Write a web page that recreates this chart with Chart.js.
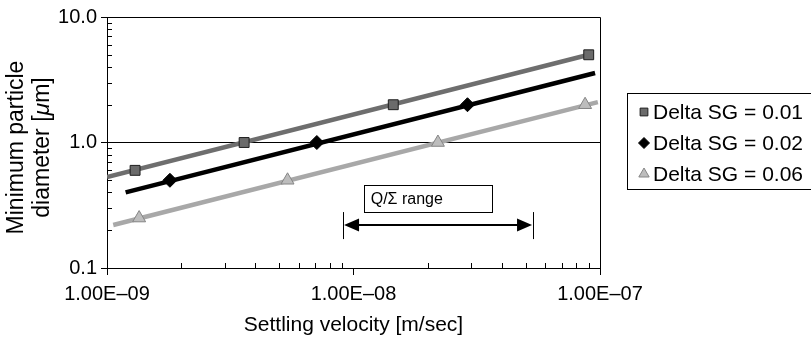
<!DOCTYPE html>
<html>
<head>
<meta charset="utf-8">
<script src="https://cdn.jsdelivr.net/npm/chart.js@4.4.1/dist/chart.umd.min.js"></script>
<style>
  html, body { margin: 0; padding: 0; background: #fff; }
  #wrap { position: relative; width: 811px; height: 341px; }
</style>
</head>
<body>
<div id="wrap"><canvas id="chart"></canvas></div>
<script>
// measured points, settling velocity [m/sec] vs minimum particle diameter [um]
const seriesLabels = ['Delta SG = 0.01', 'Delta SG = 0.02', 'Delta SG = 0.06'];

const velocity01 = [1.3e-9, 3.6e-9, 1.45e-8, 9.0e-8];
const diameter01 = [0.6, 1.0, 2.0, 5.0];
const velocity02 = [1.8e-9, 7.1e-9, 2.9e-8];
const diameter02 = [0.5, 1.0, 2.0];
const velocity06 = [1.35e-9, 5.4e-9, 2.2e-8, 8.7e-8];
const diameter06 = [0.25, 0.5, 1.0, 2.0];

// trend line end points
const trendVel01 = [1.0e-9, 9.0e-8];
const trendDia01 = [0.53, 5.0];
const trendVel02 = [1.19e-9, 9.55e-8];
const trendDia02 = [0.40, 3.58];
const trendVel06 = [1.06e-9, 9.8e-8];
const trendDia06 = [0.22, 2.1];

// axis ticks
const xTicks = [1e-9, 1e-8, 1e-7];
const yTicks = [0.1, 1, 10];

// Q/Sigma range annotation
const rangeLabel = 'Q/\u03a3 range';
const rangeVel = [9.07e-9, 5.35e-8];
const rangeDia = 0.22;
const rangeBarDia = [0.17, 0.279];
const rangeBoxVel = [1.10e-8, 3.65e-8];
const rangeBoxDia = [0.279, 0.458];

const FONT = "'Liberation Sans', Arial, sans-serif";

function pts(xs, ys) {
  return xs.map((x, i) => ({ x: x, y: ys[i] }));
}

function sciLabel(v) {
  const e = Math.round(Math.log10(v));
  const m = v / Math.pow(10, e);
  const sign = e < 0 ? '\u2013' : '+';
  return m.toFixed(2) + 'E' + sign + String(Math.abs(e)).padStart(2, '0');
}

const styles = [
  { line: '#6e6e6e', fill: '#6b6b6b', edge: '#1e1e1e', shape: 'rect', r: 7, lr: 5.5 },
  { line: '#000000', fill: '#000000', edge: '#000000', shape: 'rectRot', r: 7, lr: 5.5 },
  { line: '#a8a8a8', fill: '#bdbdbd', edge: '#858585', shape: 'triangle', r: 7.5, lr: 6 }
];

const markerSets = [
  pts(velocity01, diameter01),
  pts(velocity02, diameter02),
  pts(velocity06, diameter06)
];
const trendSets = [
  pts(trendVel01, trendDia01),
  pts(trendVel02, trendDia02),
  pts(trendVel06, trendDia06)
];

const datasets = [];
for (let i = 0; i < 3; i++) {
  datasets.push({
    label: seriesLabels[i],
    data: markerSets[i],
    showLine: false,
    pointStyle: styles[i].shape,
    pointRadius: styles[i].r,
    pointHoverRadius: styles[i].r,
    pointBackgroundColor: styles[i].fill,
    pointBorderColor: styles[i].edge,
    pointBorderWidth: 1,
    order: 0
  });
}
for (let i = 0; i < 3; i++) {
  datasets.push({
    label: seriesLabels[i] + ' trend',
    data: trendSets[i],
    showLine: true,
    borderColor: styles[i].line,
    borderWidth: 4.5,
    pointRadius: 0,
    fill: false,
    order: 1
  });
}

const extras = {
  id: 'extras',
  afterDraw(chart) {
    const ctx = chart.ctx;
    const xs = chart.scales.x, ys = chart.scales.y;
    const a = chart.chartArea;
    ctx.save();

    // plot frame top and right
    ctx.strokeStyle = '#000';
    ctx.lineWidth = 1;
    ctx.beginPath();
    ctx.moveTo(a.left, a.top + 0.5);
    ctx.lineTo(a.right + 0.5, a.top + 0.5);
    ctx.lineTo(a.right + 0.5, a.bottom);
    ctx.stroke();

    // minor ticks, pointing inwards
    ctx.beginPath();
    for (let d = 0; d < xTicks.length - 1; d++) {
      for (let k = 2; k <= 9; k++) {
        const px = Math.round(xs.getPixelForValue(xTicks[d] * k)) + 0.5;
        ctx.moveTo(px, a.bottom);
        ctx.lineTo(px, a.bottom - 5);
      }
    }
    for (let d = 0; d < yTicks.length - 1; d++) {
      for (let k = 2; k <= 9; k++) {
        const py = Math.round(ys.getPixelForValue(yTicks[d] * k)) + 0.5;
        ctx.moveTo(a.left, py);
        ctx.lineTo(a.left + 5, py);
      }
    }
    ctx.stroke();

    // Q/Sigma range box and arrow
    const bx0 = xs.getPixelForValue(rangeBoxVel[0]);
    const bx1 = xs.getPixelForValue(rangeBoxVel[1]);
    const by0 = ys.getPixelForValue(rangeBoxDia[1]);
    const by1 = ys.getPixelForValue(rangeBoxDia[0]);
    ctx.fillStyle = '#fff';
    ctx.fillRect(bx0, by0, bx1 - bx0, by1 - by0);
    ctx.strokeStyle = '#000';
    ctx.lineWidth = 1;
    ctx.strokeRect(Math.round(bx0) + 0.5, Math.round(by0) + 0.5, Math.round(bx1 - bx0), Math.round(by1 - by0));
    ctx.fillStyle = '#000';
    ctx.font = '16px ' + FONT;
    ctx.textAlign = 'left';
    ctx.textBaseline = 'middle';
    ctx.fillText(rangeLabel, bx0 + 7, (by0 + by1) / 2 + 1);

    const ax0 = xs.getPixelForValue(rangeVel[0]);
    const ax1 = xs.getPixelForValue(rangeVel[1]);
    const ay = ys.getPixelForValue(rangeDia);
    const t0 = ys.getPixelForValue(rangeBarDia[1]);
    const t1 = ys.getPixelForValue(rangeBarDia[0]);
    ctx.lineWidth = 1;
    ctx.beginPath();
    ctx.moveTo(Math.round(ax0) + 0.5, t0);
    ctx.lineTo(Math.round(ax0) + 0.5, t1);
    ctx.moveTo(Math.round(ax1) + 0.5, t0);
    ctx.lineTo(Math.round(ax1) + 0.5, t1);
    ctx.stroke();
    ctx.lineWidth = 2;
    ctx.beginPath();
    ctx.moveTo(ax0 + 10, ay);
    ctx.lineTo(ax1 - 10, ay);
    ctx.stroke();
    ctx.beginPath();
    ctx.moveTo(ax0 + 1, ay);
    ctx.lineTo(ax0 + 16, ay - 6.5);
    ctx.lineTo(ax0 + 16, ay + 6.5);
    ctx.closePath();
    ctx.moveTo(ax1 - 1, ay);
    ctx.lineTo(ax1 - 16, ay - 6.5);
    ctx.lineTo(ax1 - 16, ay + 6.5);
    ctx.closePath();
    ctx.fill();

    // legend box
    const lx = 627, ly = 93, lw = 184, lh = 96;
    ctx.lineWidth = 1;
    ctx.strokeStyle = '#000';
    ctx.strokeRect(lx + 0.5, ly + 0.5, lw, lh);
    ctx.font = '21px ' + FONT;
    ctx.textBaseline = 'middle';
    ctx.textAlign = 'left';
    for (let i = 0; i < 3; i++) {
      const cy = ly + 19 + i * 31;
      const cx = lx + 17;
      const st = styles[i];
      ctx.fillStyle = st.fill;
      ctx.strokeStyle = st.edge;
      ctx.lineWidth = 1;
      Chart.helpers.drawPoint(ctx, { pointStyle: st.shape, radius: st.lr, borderWidth: 1 }, cx, cy);
      ctx.fillStyle = '#000';
      ctx.fillText(seriesLabels[i], lx + 26, cy + 1);
    }

    // y axis title with italic mu
    ctx.translate(30, (a.top + a.bottom) / 2 + 5);
    ctx.rotate(-Math.PI / 2);
    ctx.fillStyle = '#000';
    ctx.textAlign = 'center';
    ctx.font = '23px ' + FONT;
    ctx.fillText('Minimum particle', 0, -13);
    const p1 = 'diameter [', p2 = '\u03bc', p3 = 'm]';
    const w1 = ctx.measureText(p1).width;
    const w3 = ctx.measureText(p3).width;
    ctx.font = 'italic 23px ' + FONT;
    const w2 = ctx.measureText(p2).width;
    const sx = -(w1 + w2 + w3) / 2;
    ctx.textAlign = 'left';
    ctx.font = '23px ' + FONT;
    ctx.fillText(p1, sx, 13);
    ctx.font = 'italic 23px ' + FONT;
    ctx.fillText(p2, sx + w1, 13);
    ctx.font = '23px ' + FONT;
    ctx.fillText(p3, sx + w1 + w2, 13);

    ctx.restore();
  }
};

const chart = new Chart(document.getElementById('chart'), {
  type: 'scatter',
  data: { datasets: datasets },
  options: {
    responsive: true,
    maintainAspectRatio: false,
    animation: false,
    layout: { padding: { top: 17, right: 211, left: 0, bottom: 0 } },
    plugins: {
      legend: { display: false },
      tooltip: { enabled: false }
    },
    scales: {
      x: {
        type: 'logarithmic',
        min: 1e-9,
        max: 1e-7,
        afterBuildTicks: (s) => { s.ticks = xTicks.map(v => ({ value: v, major: true })); },
        afterFit: (s) => { s.height = 73; },
        ticks: {
          autoSkip: false,
          maxRotation: 0,
          padding: 7,
          color: '#000',
          font: { family: FONT, size: 20 },
          callback: (v) => sciLabel(v)
        },
        grid: { drawOnChartArea: false, drawTicks: true, tickLength: 7, tickColor: '#000' },
        border: { color: '#000', width: 1 },
        title: {
          display: true,
          text: 'Settling velocity [m/sec]',
          color: '#000',
          font: { family: FONT, size: 21 },
          padding: { top: 0, bottom: 3 }
        }
      },
      y: {
        type: 'logarithmic',
        min: 0.1,
        max: 10,
        afterBuildTicks: (s) => { s.ticks = yTicks.map(v => ({ value: v, major: true })); },
        afterFit: (s) => { s.width = 107; },
        ticks: {
          padding: 4,
          color: '#000',
          font: { family: FONT, size: 20 },
          callback: (v) => Number(v).toFixed(1)
        },
        grid: { color: '#000', lineWidth: 1, drawTicks: true, tickLength: 6, tickColor: '#000' },
        border: { color: '#000', width: 1 }
      }
    }
  },
  plugins: [extras]
});
</script>
</body>
</html>
